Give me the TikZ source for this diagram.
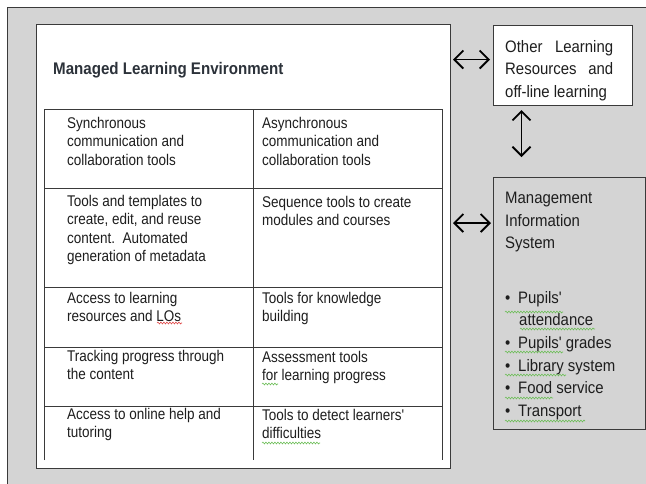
\documentclass[tikz,border=0pt]{standalone}
\usepackage{fontspec}
\setmainfont{Liberation Sans}
\newfontfamily\narrowfont[FakeStretch=0.87]{Liberation Sans}
\newfontfamily\sidefont[FakeStretch=0.9]{Liberation Sans}
\usetikzlibrary{arrows.meta,decorations.pathmorphing}
\definecolor{bggray}{HTML}{D4D4D4}
\definecolor{edge}{HTML}{3A3A3A}
\definecolor{ink}{HTML}{1E1E1E}
\definecolor{titleink}{HTML}{2C323A}
\definecolor{wavegreen}{HTML}{6DBE58}
\definecolor{wavered}{HTML}{E04848}

\begin{document}
\begin{tikzpicture}[x=1pt,y=-1pt,
  box/.style={draw=edge, line width=1pt, inner sep=0pt, anchor=north west},
  cell/.style={anchor=north west, inner sep=0pt, align=left, text=ink,
    font=\narrowfont\fontsize{15.5}{18.4}\selectfont},
  side/.style={anchor=north west, inner sep=0pt, align=left, text=ink,
    font=\sidefont\fontsize{16.6}{22.6}\selectfont},
  grid/.style={draw=edge, line width=0.8pt},
  squig/.style={draw=#1, line width=0.6pt,
    decorate, decoration={snake, amplitude=0.9pt, segment length=3pt}},
  dblarrow/.style={{Straight Barb[length=9pt,width=18pt]}-{Straight Barb[length=9pt,width=18pt]},
    line width=1.8pt, black}]
  \useasboundingbox (0,0) rectangle (646,483);
  \draw[edge, fill=bggray, line width=1pt] (7,7) rectangle (680,520);

  % boxes
  \node[box, fill=white, minimum width=414pt, minimum height=444pt] (mle) at (36,24) {};
  \node[box, fill=white, minimum width=139pt, minimum height=80pt] (oth) at (493,25) {};
  \node[box, fill=bggray, minimum width=152pt, minimum height=252pt] (mis) at (493,177) {};
  \node[anchor=west, inner sep=0pt, text=titleink,
    font=\sidefont\bfseries\fontsize{16.8}{18}\selectfont] (title) at (53,70) {Managed Learning Environment};

  % table
  \draw[grid] (44,460) -- (44,109) -- (442,109) -- (442,460);
  \draw[grid] (253,109) -- (253,460);
  \foreach \y in {188,287,347,406}
    \draw[grid] (44,\y) -- (442,\y);

  \node[cell] (sync) at (67,117) {Synchronous\\communication and\\collaboration tools};
  \node[cell] (async) at (262,117) {Asynchronous\\communication and\\collaboration tools};
  \node[cell] (tmpl) at (67,195) {Tools and templates to\\create, edit, and reuse\\content.\ \ Automated\\generation of metadata};
  \node[cell] (seq) at (262,196) {Sequence tools to create\\modules and courses};
  \node[cell] (access) at (67,292) {Access to learning\\resources and LOs};
  \node[cell] (know) at (262,292) {Tools for knowledge\\building};
  \node[cell] (track) at (67,350) {Tracking progress through\\the content};
  \node[cell] (assess) at (262,351) {Assessment tools\\for learning progress};
  \node[cell] (help) at (67,408) {Access to online help and\\tutoring};
  \node[cell] (detect) at (262,409) {Tools to detect learners'\\difficulties};

  % side texts
  \node[side] (othtext) at (505,40) {\makebox[108pt][s]{Other Learning}\\
    \makebox[108pt][s]{Resources and}\\off-line learning};
  \node[side] (mistext) at (505,192) {Management\\Information\\System};
  \node[side] (mislist) at (505,291) {\makebox[13pt][l]{•}Pupils'\\
    \hspace*{14pt}attendance\\
    \makebox[13pt][l]{•}Pupils' grades\\
    \makebox[13pt][l]{•}Library system\\
    \makebox[13pt][l]{•}Food service\\
    \makebox[13pt][l]{•}Transport};

  % spelling marks
  \draw[squig=wavered] (157,323) -- (182,323);
  \draw[squig=wavegreen] (262,384) -- (278,384);
  \draw[squig=wavegreen] (262,443) -- (320,443);
  \draw[squig=wavegreen] (505,312) -- (563,312);
  \draw[squig=wavegreen] (520,329) -- (595,329);
  \draw[squig=wavegreen] (505,352) -- (563,352);
  \draw[squig=wavegreen] (505,375) -- (566,375);
  \draw[squig=wavegreen] (505,398) -- (553,398);
  \draw[squig=wavegreen] (505,421) -- (585,421);

  % links
  \draw[dblarrow, shorten <=3pt, shorten >=2pt] ([yshift=6pt]oth.west) -- ([yshift=6pt]oth.west -| mle.east);
  \draw[dblarrow, shorten <=4pt, shorten >=20pt] ([xshift=-41.5pt]oth.south) -- ([xshift=-41.5pt]oth.south |- mis.north);
  \draw[dblarrow, shorten <=2pt, shorten >=2pt] ([yshift=-46pt]mis.north west) -- ([yshift=-46pt]mis.north west -| mle.east);
\end{tikzpicture}
\end{document}
